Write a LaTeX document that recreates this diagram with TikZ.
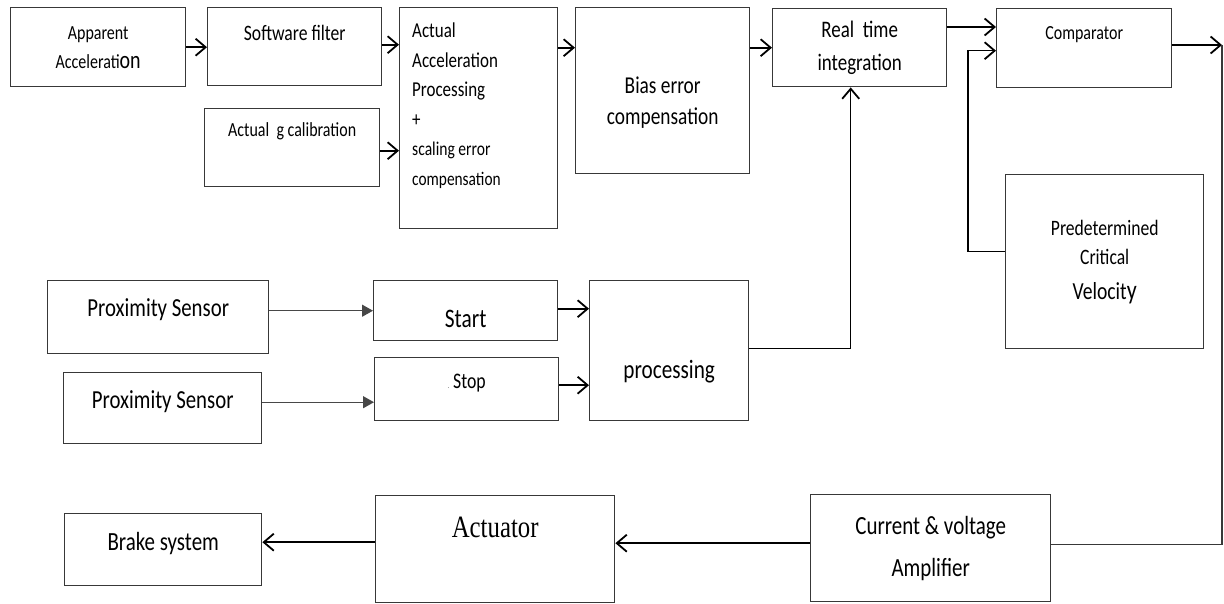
\documentclass[tikz,border=0pt]{standalone}
\usepackage{fontspec}
\setmainfont{Carlito}[FakeStretch=0.8]
\newfontfamily\actserif{Liberation Serif}[FakeStretch=0.8]
\usetikzlibrary{arrows.meta}
\newcommand{\fs}[2]{\fontsize{#1}{#2}\selectfont}

\begin{document}
\begin{tikzpicture}[x=1pt, y=-1pt,
  blk/.style={draw=black!78, line width=1.4pt, anchor=north west, inner sep=0pt, align=center},
  lbl/.style={align=center, inner sep=0pt},
  arr/.style={-{Straight Barb[length=10pt, width=17pt, line width=1.8pt]}, line width=1.9pt},
  fil/.style={-{Triangle[length=11pt, width=12pt]}, line width=1.3pt, draw=black!72}]
  \useasboundingbox (0,0) rectangle (1224,603);

  % top row
  \node[blk, minimum width=175, minimum height=79, font=\fs{20}{29}] (app) at (10,7)
    {Apparent\\Accelerati{\fs{25}{29}on}};
  \node[blk, minimum width=174, minimum height=78,
    label={[lbl, font=\fs{22}{24}, yshift=14pt]center:Software filter}] (filt) at (207,7) {};
  \node[blk, minimum width=175, minimum height=78,
    label={[lbl, font=\fs{20}{22}, yshift=16pt]center:Actual\ \ g calibration}] (gcal) at (204,108) {};
  \node[blk, minimum width=158, minimum height=221] (aap) at (399,7) {};
  \node[lbl, align=left, anchor=north west, font=\fs{21.2}{29.5}] (aap-t)
    at ([xshift=13pt,yshift=-16pt]aap.north west)
    {Actual\\Acceleration\\Processing\\+\\\fs{19.5}{29.5}scaling error\\\fs{19.2}{29.5}compensation};
  \node[blk, minimum width=174, minimum height=166,
    label={[lbl, font=\fs{24.2}{31}, yshift=-12pt]center:Bias error\\compensation}] (bias) at (575,7) {};
  \node[blk, minimum width=174, minimum height=78, font=\fs{23.7}{33}] (rti) at (772,8)
    {Real\ \ time\\integration};
  \node[blk, minimum width=175, minimum height=79,
    label={[lbl, font=\fs{20}{22}, yshift=13.5pt]center:Comparator}] (comp) at (996,8) {};
  \node[blk, minimum width=198, minimum height=174, font=\fs{22}{29}] (pcv) at (1005,174)
    {Predetermined\\Critical\\[6pt]{\fs{24.5}{29}Velocit{\fs{27.5}{29}y}}};

  % sensors
  \node[blk, minimum width=221, minimum height=73,
    label={[lbl, font=\fs{26}{28}, yshift=7.5pt]center:Proximity Sensor}] (prx1) at (47,280) {};
  \node[blk, minimum width=198, minimum height=71,
    label={[lbl, font=\fs{26}{28}, yshift=6.5pt]center:Proximity Sensor}] (prx2) at (63,372) {};
  \node[blk, minimum width=184, minimum height=60,
    label={[lbl, font=\fs{26.7}{28}, yshift=-8pt]center:Start}] (start) at (373,280) {};
  \node[blk, minimum width=184, minimum height=63,
    label={[lbl, font=\fs{22.2}{24}, yshift=6.5pt]center:{\color{black!50}\fs{9}{9}.}\,Stop}] (stop) at (374,357) {};
  \node[blk, minimum width=159, minimum height=140,
    label={[lbl, font=\fs{26.5}{28}, yshift=-21pt]center:processing}] (proc) at (589,280) {};

  % bottom row
  \node[blk, minimum width=197, minimum height=72,
    label={[lbl, font=\fs{26.2}{28}, yshift=6pt]center:Brake system}] (brake) at (64,513) {};
  \node[blk, minimum width=239, minimum height=107,
    label={[lbl, font=\actserif\fs{31}{33}, yshift=22pt]center:Actuator}] (act) at (375,495) {};
  \node[blk, minimum width=240, minimum height=107, font=\fs{26.2}{42}] (amp) at (810,494)
    {Current \& voltage\\Amplifier};

  \coordinate (cr) at (1222,45);

  % connectors
  \draw[arr] (app.east) -- (app.east -| filt.west);
  \draw[arr] ([yshift=2pt]filt.east) -- ([yshift=2pt]filt.east -| aap.west);
  \draw[arr] ([yshift=-3pt]gcal.east) -- ([yshift=-3pt]gcal.east -| aap.west);
  \draw[arr] (aap.east |- rti.west) -- (bias.west |- rti.west);
  \draw[arr] (bias.east |- rti.west) -- (rti.west);
  \draw[arr] ([yshift=-19pt]rti.north east) -- ([yshift=-19pt]rti.north east -| comp.west);
  \draw[arr, line width=1.4pt] ([yshift=10pt]pcv.west) -| ([xshift=-28pt,yshift=-2.5pt]comp.west)
    -- ([yshift=-2.5pt]comp.west);
  \draw[arr] (comp.east |- cr) -- (cr);
  \draw[line width=1.4pt, black!78] (cr) |- ([yshift=4pt]amp.east);
  \draw[arr, line width=1.4pt] ([yshift=2pt]proc.east) -| ([xshift=-9pt]rti.south);
  \draw[fil] (prx1.east |- start.west) -- (start.west);
  \draw[fil] ([yshift=6pt]prx2.east) -- ([yshift=6pt]prx2.east -| stop.west);
  \draw[arr] ([yshift=2pt]start.east) -- ([yshift=2pt]start.east -| proc.west);
  \draw[arr] ([yshift=4pt]stop.east) -- ([yshift=4pt]stop.east -| proc.west);
  \draw[arr] ([yshift=5pt]amp.west) -- ([yshift=5pt]amp.west -| act.east);
  \draw[arr] ([yshift=7pt]act.west) -- ([yshift=7pt]act.west -| brake.east);
\end{tikzpicture}
\end{document}
